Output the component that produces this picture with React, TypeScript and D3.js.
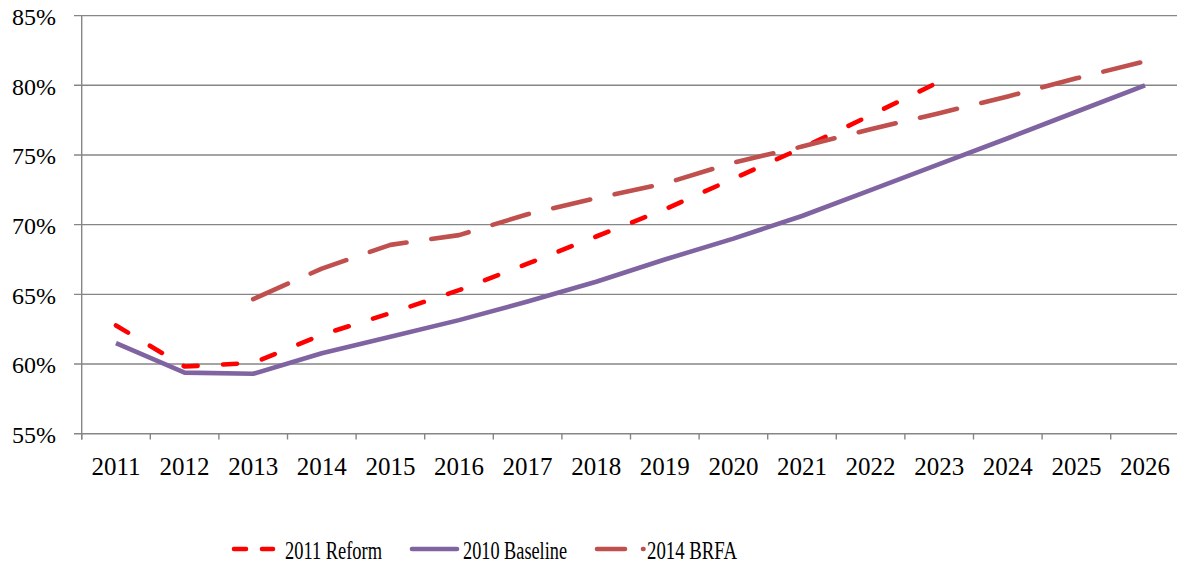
import React from "react";
import * as d3 from "d3";

const years = [2011, 2012, 2013, 2014, 2015, 2016, 2017, 2018, 2019, 2020, 2021, 2022, 2023, 2024, 2025, 2026];
const reform2011: (number | null)[] = [62.77, 59.82, 60.08, 62.1, 63.65, 65.3, 67.2, 69.15, 71.1, 73.3, 75.5, 77.85, 80.25, null, null, null];
const baseline2010: (number | null)[] = [61.5, 59.38, 59.3, 60.77, 61.95, 63.15, 64.48, 65.9, 67.5, 69.0, 70.62, 72.48, 74.35, 76.2, 78.1, 80.0];
const brfa2014: (number | null)[] = [null, null, 64.65, 66.85, 68.55, 69.25, 70.75, 71.9, 72.95, 74.45, 75.6, 76.85, 78.0, 79.2, 80.5, 81.72];
const yTicks = [55, 60, 65, 70, 75, 80, 85];

const seriesList = [
  { name: "2011 Reform", values: reform2011, color: "#FF0000", dash: "14 25.5" },
  { name: "2010 Baseline", values: baseline2010, color: "#8064A2", dash: "" },
  { name: "2014 BRFA", values: brfa2014, color: "#C0504D", dash: "38 25" },
];

const W = 1177;
const H = 565;
const FONT = "'Liberation Serif', 'Times New Roman', serif";

export default function App() {
  const x = d3.scaleBand<number>().domain(years).range([81.7, 81.7 + 68.6 * 16]).padding(0);
  const y = d3.scaleLinear().domain([55, 85]).range([433.7, 15.6]);
  const cx = (yr: number) => (x(yr) as number) + x.bandwidth() / 2;

  const makeLine = (vals: (number | null)[]) =>
    d3
      .line<number>()
      .defined((_, i) => vals[i] != null)
      .x((_, i) => cx(years[i]))
      .y((_, i) => y(vals[i] as number))(years) || "";

  const gridColor = "#868686";
  const boundaries = years.map((yr) => x(yr) as number).concat([(x(2026) as number) + x.bandwidth()]);

  const legendItems = [
    { s: seriesList[0], x1: 234, x2: 273, dash: "12 16", tx: 285, tl: 97 },
    { s: seriesList[1], x1: 412, x2: 457, dash: "", tx: 463, tl: 104 },
    { s: seriesList[2], x1: 597, x2: 643.5, dash: "28 18", tx: 647, tl: 90 },
  ];

  return (
    <svg
      width={W}
      height={H}
      style={{ position: "fixed", left: 0, top: 0, background: "#fff" }}
      fontFamily={FONT}
    >
      <rect x={0} y={0} width={W} height={H} fill="#fff" />
      {/* gridlines */}
      {yTicks.map((t) => (
        <line key={t} x1={74} x2={W} y1={y(t)} y2={y(t)} stroke={gridColor} strokeWidth={1.4} />
      ))}
      {/* y axis */}
      <line x1={81.7} x2={81.7} y1={y(85)} y2={439.5} stroke={gridColor} strokeWidth={1.4} />
      {/* x ticks */}
      {boundaries.map((b, i) => (
        <line key={i} x1={b} x2={b} y1={y(55)} y2={439.5} stroke={gridColor} strokeWidth={1.4} />
      ))}
      {/* y labels */}
      {yTicks.map((t) => (
        <text key={t} x={56} y={y(t) + 9.3} textAnchor="end" fontSize={24} fill="#000">
          {t}%
        </text>
      ))}
      {/* x labels */}
      {years.map((yr) => (
        <text key={yr} x={cx(yr)} y={475} textAnchor="middle" fontSize={25} fill="#000">
          {yr}
        </text>
      ))}
      {/* series */}
      {seriesList.map((s) => (
        <path
          key={s.name}
          d={makeLine(s.values)}
          fill="none"
          stroke={s.color}
          strokeWidth={4.6}
          strokeDasharray={s.dash || undefined}
          strokeLinecap={s.dash ? "round" : "butt"}
          strokeLinejoin="round"
        />
      ))}
      {/* legend */}
      {legendItems.map((li) => (
        <g key={li.s.name}>
          <line
            x1={li.x1}
            x2={li.x2}
            y1={549}
            y2={549}
            stroke={li.s.color}
            strokeWidth={4.6}
            strokeDasharray={li.dash || undefined}
            strokeLinecap="round"
          />
          <text x={li.tx} y={559} fontSize={25} fill="#000" textLength={li.tl} lengthAdjust="spacingAndGlyphs">
            {li.s.name}
          </text>
        </g>
      ))}
    </svg>
  );
}
